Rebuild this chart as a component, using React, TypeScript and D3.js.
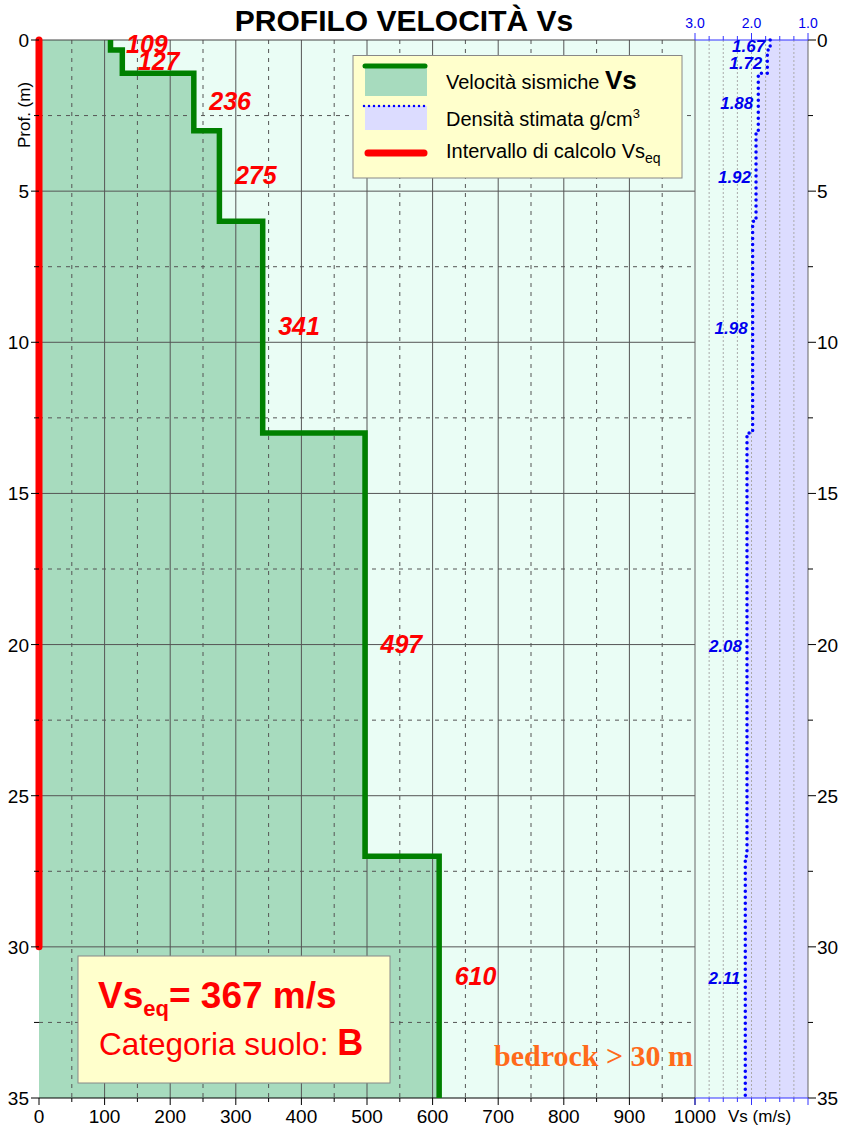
import React from 'react';
import * as d3 from 'd3';

const layerTops = [0, 0.33, 1.1, 3, 6, 13, 27];
const layerBottoms = [0.33, 1.1, 3, 6, 13, 27, 35];
const vsValues = [109, 127, 236, 275, 341, 497, 610];
const densityValues = [1.67, 1.72, 1.88, 1.92, 1.98, 2.08, 2.11];
const depthTicks = [0, 5, 10, 15, 20, 25, 30, 35];
const depthMinor = [2.5, 7.5, 12.5, 17.5, 22.5, 27.5, 32.5];
const vsTicks = [0, 100, 200, 300, 400, 500, 600, 700, 800, 900, 1000];
const vsMinor = [50, 150, 250, 350, 450, 550, 650, 750, 850, 950];
const densityTicks = [3.0, 2.0, 1.0];
const densityMinor = [2.75, 2.5, 2.25, 1.75, 1.5, 1.25];
const vsEq = 367;
const soilCategory = 'B';
const calcDepth = 30;
const bedrockLabel = 'bedrock > 30 m';
const title = 'PROFILO VELOCITÀ Vs';

const FONT = 'Liberation Sans, Arial, sans-serif';
const MINT = '#eafdf5';
const GREENFILL = '#a7dbbe';
const LAVENDER = '#dcdcff';
const GRID = '#555';

export default function App() {
  const x = d3.scaleLinear().domain([0, 1000]).range([39, 695]);
  const y = d3.scaleLinear().domain([0, 35]).range([40, 1098]);
  const dx = d3.scaleLinear().domain([3, 1]).range([695, 808]);

  const vsPts: { d: number; v: number }[] = [];
  vsValues.forEach((v, i) => {
    vsPts.push({ d: layerTops[i], v });
    vsPts.push({ d: layerBottoms[i], v });
  });
  const rhoPts: { d: number; r: number }[] = [];
  densityValues.forEach((r, i) => {
    rhoPts.push({ d: layerTops[i], r });
    rhoPts.push({ d: layerBottoms[i], r });
  });

  const vsArea = d3.area<{ d: number; v: number }>().y(p => y(p.d)).x0(x(0)).x1(p => x(p.v))(vsPts) || '';
  const vsLine = d3.line<{ d: number; v: number }>().x(p => x(p.v)).y(p => y(p.d))(vsPts) || '';
  const rhoArea = d3.area<{ d: number; r: number }>().y(p => y(p.d)).x0(p => dx(p.r)).x1(dx(1))(rhoPts) || '';
  const rhoLine = d3.line<{ d: number; r: number }>().x(p => dx(p.r)).y(p => y(p.d))(rhoPts) || '';

  return (
    <svg width={841} height={1126} style={{ position: 'absolute', left: 0, top: 0 }} fontFamily={FONT}>
      <rect x={0} y={0} width={841} height={1126} fill="#fff" />
      {/* backgrounds */}
      <rect x={x(0)} y={y(0)} width={dx(1) - x(0)} height={y(35) - y(0)} fill={MINT} />
      <path d={vsArea} fill={GREENFILL} />
      <path d={rhoArea} fill={LAVENDER} />
      {/* grid */}
      {vsMinor.map(v => (
        <line key={'vm' + v} x1={x(v)} x2={x(v)} y1={y(0)} y2={y(35)} stroke={GRID} strokeDasharray="4,5" />
      ))}
      {depthMinor.map(d => (
        <line key={'dm' + d} x1={x(0)} x2={x(1000)} y1={y(d)} y2={y(d)} stroke={GRID} strokeDasharray="4,5" />
      ))}
      {vsTicks.slice(1, -1).map(v => (
        <line key={'vg' + v} x1={x(v)} x2={x(v)} y1={y(0)} y2={y(35)} stroke={GRID} strokeWidth={1} />
      ))}
      {depthTicks.slice(1, -1).map(d => (
        <line key={'dg' + d} x1={x(0)} x2={x(1000)} y1={y(d)} y2={y(d)} stroke={GRID} strokeWidth={1} />
      ))}
      {densityMinor.concat([2.0]).map(r => (
        <line key={'rg' + r} x1={dx(r)} x2={dx(r)} y1={y(0)} y2={y(35)} stroke="#aaa" strokeDasharray="2,2" strokeWidth={1} />
      ))}
      {/* frame */}
      <line x1={x(0)} x2={x(1000)} y1={y(0)} y2={y(0)} stroke="#444" />
      <line x1={x(1000)} x2={x(1000)} y1={y(0)} y2={y(35)} stroke="#666" />
      <line x1={dx(1)} x2={dx(1)} y1={y(0)} y2={y(35)} stroke="#666" />
      <line x1={x(0)} x2={x(1000)} y1={y(35)} y2={y(35)} stroke="#000" />
      <line x1={dx(3)} x2={dx(1)} y1={y(0)} y2={y(0)} stroke="#33f" />
      <line x1={dx(3)} x2={dx(1)} y1={y(35)} y2={y(35)} stroke="#33f" />
      {/* profiles */}
      <path d={vsLine} fill="none" stroke="#008000" strokeWidth={5.5} strokeLinejoin="miter" />
      <path d={rhoLine} fill="none" stroke="#0000ff" strokeWidth={3.5} strokeDasharray="0,6" strokeLinecap="round" />
      <line x1={x(0)} x2={x(0)} y1={y(0)} y2={y(calcDepth)} stroke="#ff0000" strokeWidth={7} strokeLinecap="round" />
      {/* labels */}
      {vsValues.map((v, i) => (
        <text key={'vl' + i} x={x(v) + 15.5} y={y((layerTops[i] + layerBottoms[i]) / 2) + 8} fill="#ff0000" fontSize={25} fontWeight="bold" fontStyle="italic">{v}</text>
      ))}
      {densityValues.map((r, i) => (
        <text key={'rl' + i} x={dx(r) - 5} y={y((layerTops[i] + layerBottoms[i]) / 2) + 7} fill="#0000ee" fontSize={17} fontWeight="bold" fontStyle="italic" textAnchor="end">{r.toFixed(2)}</text>
      ))}
      {/* axes */}
      {depthTicks.map(d => (
        <g key={'ly' + d}>
          <line x1={x(0) - 8} x2={x(0)} y1={y(d)} y2={y(d)} stroke="#000" />
          <text x={x(0) - 10} y={y(d) + 7} fontSize={19} textAnchor="end">{d}</text>
          <line x1={dx(1)} x2={dx(1) + 8} y1={y(d)} y2={y(d)} stroke="#000" />
          <text x={dx(1) + 9} y={y(d) + 7} fontSize={19}>{d}</text>
        </g>
      ))}
      {depthMinor.map(d => (
        <g key={'lym' + d}>
          <line x1={x(0) - 5} x2={x(0)} y1={y(d)} y2={y(d)} stroke="#000" />
          <line x1={dx(1)} x2={dx(1) + 5} y1={y(d)} y2={y(d)} stroke="#000" />
        </g>
      ))}
      {vsTicks.map(v => (
        <g key={'bx' + v}>
          <line x1={x(v)} x2={x(v)} y1={y(35)} y2={y(35) + 7} stroke="#000" />
          <text x={x(v)} y={1123} fontSize={19} textAnchor="middle">{v}</text>
        </g>
      ))}
      {vsMinor.map(v => (
        <line key={'bxm' + v} x1={x(v)} x2={x(v)} y1={y(35)} y2={y(35) + 4} stroke="#000" />
      ))}
      <text x={728} y={1122} fontSize={17}>Vs (m/s)</text>
      {densityTicks.map(r => (
        <g key={'tx' + r}>
          <line x1={dx(r)} x2={dx(r)} y1={y(0) - 7} y2={y(0)} stroke="#33f" />
          <line x1={dx(r)} x2={dx(r)} y1={y(35)} y2={y(35) + 7} stroke="#33f" />
          <text x={dx(r)} y={28} fontSize={14} fill="#0000ee" textAnchor="middle">{r.toFixed(1)}</text>
        </g>
      ))}
      {densityMinor.map(r => (
        <g key={'txm' + r}>
          <line x1={dx(r)} x2={dx(r)} y1={y(0) - 4} y2={y(0)} stroke="#33f" />
          <line x1={dx(r)} x2={dx(r)} y1={y(35)} y2={y(35) + 4} stroke="#33f" />
        </g>
      ))}
      <text transform={`translate(30,${115}) rotate(-90)`} fontSize={17} textAnchor="middle">Prof. (m)</text>
      <text x={404} y={31} fontSize={30} fontWeight="bold" textAnchor="middle">{title}</text>
      {/* legend */}
      <rect x={353} y={55.5} width={329} height={122.5} fill="#ffffcc" stroke="#888" />
      <rect x={365} y={68} width={62} height={28} fill={GREENFILL} />
      <line x1={365} x2={425} y1={66} y2={66} stroke="#008000" strokeWidth={5} strokeLinecap="round" />
      <text x={446} y={89} fontSize={20}>Velocità sismiche <tspan fontWeight="bold" fontSize={26}>Vs</tspan></text>
      <rect x={365} y={106} width={62} height={24} fill={LAVENDER} />
      <line x1={364} x2={427} y1={106} y2={106} stroke="#0000ff" strokeWidth={2.5} strokeDasharray="0,5" strokeLinecap="round" />
      <text x={446} y={126} fontSize={20}>Densità stimata g/cm<tspan fontSize={13} dy={-8}>3</tspan></text>
      <line x1={368} x2={424} y1={153} y2={153} stroke="#ff0000" strokeWidth={7} strokeLinecap="round" />
      <text x={446} y={158} fontSize={20}>Intervallo di calcolo Vs<tspan fontSize={14} dy={5}>eq</tspan></text>
      {/* Vseq box */}
      <rect x={78} y={956} width={312} height={127} fill="#ffffcc" stroke="#888" />
      <text x={98} y={1008} fontSize={37} fontWeight="bold" fill="#ff0000">Vs<tspan fontSize={22} dy={8}>eq</tspan><tspan dy={-8}>{`= ${vsEq} m/s`}</tspan></text>
      <text x={99} y={1055} fontSize={31.5} fill="#ff0000">Categoria suolo: <tspan fontWeight="bold" fontSize={36}>{soilCategory}</tspan></text>
      <text x={693} y={1066} fontSize={30} fontWeight="bold" fill="#ff6a1a" textAnchor="end" fontFamily="Liberation Serif, Times New Roman, serif">{bedrockLabel}</text>
    </svg>
  );
}
